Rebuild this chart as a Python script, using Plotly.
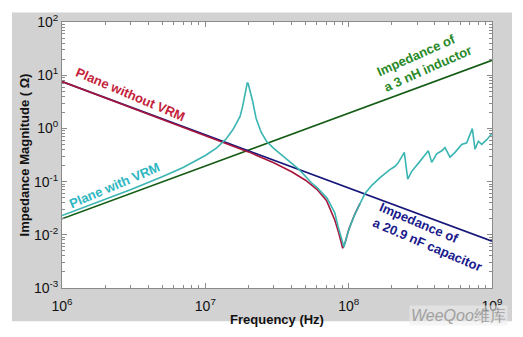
import plotly.graph_objects as go

# ---- data ----
ind_freq = [1e6, 1e9]
ind_z = [0.020, 19.0]          # 3 nH inductor

cap_freq = [1e6, 1e9]
cap_z = [7.6, 0.0076]          # 20.9 nF capacitor

red_freq = [1e6, 1e7, 2e7, 3e7, 4e7, 5e7, 6e7, 7e7, 8e7, 8.5e7, 8.8e7, 9.09e7,
            9.5e7, 1.0e8, 1.1e8, 1.2e8]
red_z = [7.6, 0.752, 0.362, 0.226, 0.1535, 0.1062, 0.0716, 0.0443, 0.019, 0.0112,
         0.0074, 0.0056, 0.0075, 0.0125, 0.024, 0.039]

cyan_freq = [1e6, 3e6, 5e6, 7e6, 1e7, 1.2e7, 1.4e7, 1.55e7, 1.65e7, 1.75e7, 1.82e7,
             1.86e7, 1.9e7, 1.93e7, 1.96e7, 1.99e7, 2.03e7, 2.07e7, 2.14e7, 2.26e7,
             2.45e7, 2.67e7, 3.0e7, 3.5e7, 4.0e7, 4.5e7, 5.5e7, 6.0e7, 7.06e7, 8.0e7,
             8.43e7, 8.9e7, 9.27e7, 9.6e7, 1.022e8, 1.108e8, 1.2e8, 1.3e8, 1.45e8,
             1.655e8, 1.94e8, 2.1e8, 2.21e8, 2.445e8, 2.582e8, 2.753e8, 3.06e8,
             3.594e8, 3.797e8, 4.115e8, 4.458e8, 4.70e8, 5.095e8, 5.52e8, 6.147e8,
             6.66e8, 7.29e8, 7.61e8, 8.03e8, 8.48e8, 9.19e8, 1e9]
cyan_z = [0.023, 0.0705, 0.123, 0.184, 0.31, 0.43, 0.64, 0.93, 1.25, 1.7, 2.6,
          3.5, 5.2, 6.8, 7.1, 7.0, 5.8, 4.3, 3.2, 1.55,
          0.85, 0.573, 0.423, 0.299, 0.222, 0.17, 0.095, 0.078, 0.049, 0.026,
          0.0144, 0.0085, 0.0059, 0.0085, 0.0144, 0.0247, 0.040, 0.060, 0.085,
          0.119, 0.1675, 0.192, 0.223, 0.355, 0.111, 0.156, 0.22,
          0.38, 0.23, 0.332, 0.38, 0.435, 0.289, 0.355, 0.50,
          0.535, 0.99, 0.407, 0.573, 0.50, 0.614, 0.80]

x_tickvals = [1e6, 1e7, 1e8, 1e9]
x_ticktext = ["10<sup>6</sup>", "10<sup>7</sup>", "10<sup>8</sup>", "10<sup>9</sup>"]
y_tickvals = [1e-3, 1e-2, 1e-1, 1e0, 1e1, 1e2]
y_ticktext = ["10<sup>-3</sup>", "10<sup>-2</sup>", "10<sup>-1</sup>",
              "10<sup>0</sup>", "10<sup>1</sup>", "10<sup>2</sup>"]

x_range = [6, 9]
y_range = [-3, 2]

FONT = "Liberation Sans, Arial, sans-serif"


def minor_positions(lo, hi):
    out = []
    for e in range(lo, hi):
        for m in range(2, 10):
            out.append(m * 10.0 ** e)
    return out


fig = go.Figure()
fig.add_trace(go.Scatter(x=ind_freq, y=ind_z, mode="lines",
                         line=dict(color="#145c14", width=1.6), showlegend=False))
fig.add_trace(go.Scatter(x=cap_freq, y=cap_z, mode="lines",
                         line=dict(color="#16167a", width=1.6), showlegend=False))
fig.add_trace(go.Scatter(x=red_freq, y=red_z, mode="lines",
                         line=dict(color="#a8163c", width=1.6), showlegend=False))
fig.add_trace(go.Scatter(x=cyan_freq, y=cyan_z, mode="lines",
                         line=dict(color="#3ab5b2", width=1.6), showlegend=False))

axis_common = dict(
    type="log", tickmode="array", showgrid=False, zeroline=False,
    showline=True, linecolor="#8a8a8a", linewidth=1, mirror="ticks",
    ticks="inside", ticklen=5, tickcolor="#8a8a8a",
    tickfont=dict(family=FONT, size=14, color="#111111"),
)

fig.update_layout(
    width=523, height=337,
    margin=dict(l=62, r=31, t=14, b=42),
    paper_bgcolor="white", plot_bgcolor="white",
    xaxis=dict(range=x_range, tickvals=x_tickvals, ticktext=x_ticktext,
               minor=dict(tickmode="array", tickvals=minor_positions(6, 9),
                          ticks="inside", ticklen=3, tickcolor="#8a8a8a",
                          showgrid=False),
               ticklabelstandoff=5, **axis_common,
               title=dict(text="<b>Frequency (Hz)</b>",
                          font=dict(family=FONT, size=13, color="#111111"),
                          standoff=2)),
    yaxis=dict(range=y_range, tickvals=y_tickvals, ticktext=y_ticktext,
               minor=dict(tickmode="array", tickvals=minor_positions(-3, 2),
                          ticks="inside", ticklen=3, tickcolor="#8a8a8a",
                          showgrid=False),
               **axis_common,
               title=dict(text="<b>Impedance Magnitude ( Ω)</b>",
                          font=dict(family=FONT, size=13, color="#111111"),
                          standoff=1)),
    shapes=[
        dict(type="rect", xref="paper", yref="paper", x0=-0.1163, x1=1.0465,
             y0=-0.1246, y1=1.0356, fillcolor="#d2d2d2", line=dict(width=0),
             layer="below"),
        dict(type="rect", xref="paper", yref="paper", x0=0, x1=1, y0=0, y1=1,
             fillcolor="white", line=dict(width=0), layer="below"),
    ],
)

ann = [
    dict(text="<b>Plane without VRM</b>", x=0.160, y=0.728, color="#c41f3c", angle=23),
    dict(text="<b>Plane with VRM</b>", x=0.121, y=0.386, color="#2eb6c2", angle=-23),
    dict(text="<b>Impedance of<br>a 3 nH inductor</b>", x=0.842, y=0.854,
         color="#2a8a2a", angle=-24),
    dict(text="<b>Impedance of<br>a 20.9 nF capacitor</b>", x=0.857, y=0.19,
         color="#1a1a8c", angle=23),
]
for a in ann:
    fig.add_annotation(text=a["text"], x=a["x"], y=a["y"], xref="paper", yref="paper",
                       xanchor="center", yanchor="middle", showarrow=False,
                       textangle=a["angle"], align="left",
                       font=dict(family=FONT, size=13, color=a["color"]))

fig.add_annotation(text="<i>WeeQoo</i>维库", x=0.923, y=-0.105, xref="paper",
                   yref="paper", xanchor="center", yanchor="middle", showarrow=False,
                   bgcolor="rgba(236,236,236,0.55)",
                   font=dict(family=FONT, size=16, color="#a0a0a0"))

fig.write_html("out.html")
